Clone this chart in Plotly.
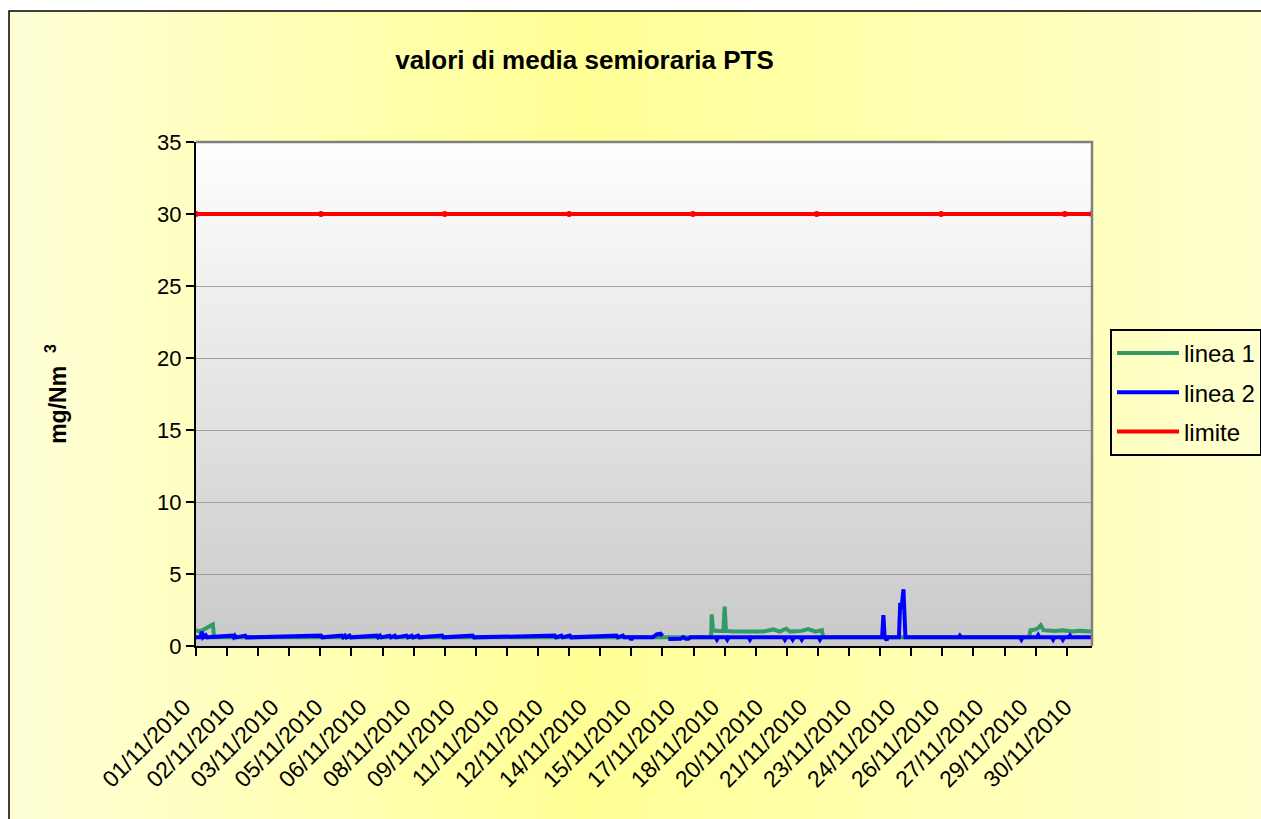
import base64, struct, zlib
import numpy as np
import plotly.graph_objects as go

# ---------------- data ----------------
# x = half-hour sample index along the category axis (1383 samples in the month)
N_SAMPLES = 1383

LABELS = ["01/11/2010", "02/11/2010", "03/11/2010", "05/11/2010", "06/11/2010",
          "08/11/2010", "09/11/2010", "11/11/2010", "12/11/2010", "14/11/2010",
          "15/11/2010", "17/11/2010", "18/11/2010", "20/11/2010", "21/11/2010",
          "23/11/2010", "24/11/2010", "26/11/2010", "27/11/2010", "29/11/2010",
          "30/11/2010"]
LABEL_POS = [0, 68, 136, 204, 272, 340, 408, 476, 544, 612, 680, 748, 816,
             884, 952, 1020, 1088, 1156, 1224, 1292, 1360]
TICK_MARKS = [0, 48, 96, 144, 192, 240, 288, 336, 384, 432, 480, 528, 576, 624,
              672, 720, 768, 816, 864, 912, 960, 1008, 1056, 1104, 1152, 1200,
              1248, 1296, 1344]

L1_IDX = [0, 5, 10, 17, 26, 28, 795, 796, 798, 806, 814, 816, 818, 829, 845,
          855, 875, 891, 901, 911, 917, 935, 945, 956, 966, 968, 1286, 1288,
          1296, 1300, 1304, 1308, 1326, 1338, 1352, 1364, 1383]
L1_VAL = [1.1, 1.0, 1.1, 1.3, 1.5, 0.6, 0.6, 2.2, 1.1, 1.05, 1.05, 2.73, 1.05,
          1.0, 1.0, 1.05, 1.0, 1.15, 1.0, 1.2, 1.0, 1.05, 1.18, 1.0, 1.1, 0.6,
          0.6, 1.1, 1.15, 1.25, 1.45, 1.1, 1.05, 1.1, 1.0, 1.05, 1.0]

L2_IDX = [0, 7, 9, 11, 15, 17, 56, 58, 60, 62, 76, 78, 193, 195, 225, 227, 230,
          232, 237, 239, 279, 281, 284, 286, 299, 301, 307, 309, 325, 327, 333,
          335, 343, 345, 380, 382, 427, 429, 554, 556, 564, 566, 577, 579, 649,
          651, 659, 661, 670, 672, 674, 705, 711, 717, 720, 724, 729, 748, 752,
          756, 760, 763, 802, 804, 806, 818, 820, 822, 853, 855, 857, 907, 909,
          911, 919, 921, 923, 933, 935, 937, 961, 963, 965, 1059, 1061, 1063,
          1066, 1068, 1085, 1087, 1089, 1092, 1095, 1177, 1179, 1181, 1272,
          1274, 1276, 1298, 1300, 1302, 1321, 1323, 1325, 1336, 1338, 1340,
          1347, 1349, 1351, 1383]
L2_VAL = [0.6, 0.6, 1.0, 0.6, 0.75, 0.6, 0.72, 0.6, 0.72, 0.6, 0.72, 0.6, 0.72,
          0.6, 0.72, 0.6, 0.72, 0.6, 0.72, 0.6, 0.72, 0.6, 0.72, 0.6, 0.72, 0.6,
          0.72, 0.6, 0.72, 0.6, 0.72, 0.6, 0.72, 0.6, 0.72, 0.6, 0.72, 0.6, 0.72,
          0.6, 0.72, 0.6, 0.72, 0.6, 0.72, 0.6, 0.72, 0.6, 0.6, 0.42, 0.6, 0.6,
          0.8, 0.85, 0.7, None, 0.48, 0.5, 0.62, 0.5, 0.5, 0.6, 0.6, 0.45, 0.6,
          0.6, 0.45, 0.6, 0.6, 0.45, 0.6, 0.6, 0.45, 0.6, 0.6, 0.45, 0.6, 0.6,
          0.45, 0.6, 0.6, 0.45, 0.6, 0.6, 2.15, 0.6, 0.4, 0.6, 0.6, 3.0, 2.6,
          3.94, 0.6, 0.6, 0.72, 0.6, 0.6, 0.45, 0.6, 0.6, 0.75, 0.6, 0.6, 0.45,
          0.6, 0.6, 0.45, 0.6, 0.6, 0.72, 0.6, 0.6]

LIM_IDX = [0, 193, 384, 576, 767, 958, 1150, 1341, 1383]
LIM_VAL = [30, 30, 30, 30, 30, 30, 30, 30, 30]

SERIES_NAMES = ["linea 1", "linea 2", "limite"]

# ---------------- styling helpers ----------------
W, H = 1261, 819
PL, PR, PT, PB = 196, 1092, 142, 646     # plot-area box in pixels
PW, PH = PR - PL, PB - PT


def px_to_paper_x(px):
    return (px - PL) / PW


def py_to_paper_y(py):
    return (PB - py) / PH


def png_uri(rgb):
    rgb = np.ascontiguousarray(rgb.astype(np.uint8))
    h, w, _ = rgb.shape
    raw = b"".join(b"\x00" + rgb[r].tobytes() for r in range(h))

    def chunk(t, d):
        c = struct.pack(">I", len(d)) + t + d
        return c + struct.pack(">I", zlib.crc32(t + d) & 0xFFFFFFFF)

    png = (b"\x89PNG\r\n\x1a\n"
           + chunk(b"IHDR", struct.pack(">IIBBBBB", w, h, 8, 2, 0, 0, 0))
           + chunk(b"IDAT", zlib.compress(raw, 9))
           + chunk(b"IEND", b""))
    return "data:image/png;base64," + base64.b64encode(png).decode()


# chart-area background: horizontal yellow gradient, strongest near the centre
BG_X0, BG_Y0, BG_X1, BG_Y1 = 9, 11, W + 2, H + 2
cols = np.arange(BG_X0, BG_X1)
blue_ch = np.interp(cols, [BG_X0, 584, W], [216, 150, 206])
bg = np.zeros((2, len(cols), 3))
bg[..., 0] = 255
bg[..., 1] = 255
bg[..., 2] = blue_ch[None, :]
bg_uri = png_uri(bg)

# plot-area background: white at top to grey at bottom
rows = np.arange(PH)
g = np.interp(rows, [0, PH - 1], [255, 202])
pa = np.zeros((PH, 2, 3))
pa[..., :] = g[:, None, None]
pa_uri = png_uri(pa)

FONT = "Arial, Liberation Sans, sans-serif"

fig = go.Figure()
fig.add_trace(go.Scatter(x=L1_IDX, y=L1_VAL, mode="lines", name=SERIES_NAMES[0],
                         line=dict(color="#339966", width=4), legendgroup="a"))
fig.add_trace(go.Scatter(x=L2_IDX, y=L2_VAL, mode="lines", name=SERIES_NAMES[1],
                         line=dict(color="#0000FF", width=4), legendgroup="b",
                         connectgaps=False))
fig.add_trace(go.Scatter(x=LIM_IDX, y=LIM_VAL, mode="lines", name=SERIES_NAMES[2],
                         line=dict(color="#FF0000", width=4), legendgroup="c"))
fig.add_trace(go.Scatter(x=LIM_IDX, y=LIM_VAL, mode="markers", showlegend=False,
                         marker=dict(color="#FF0000", size=6), legendgroup="c",
                         hoverinfo="skip"))
# carrier for the label axis
fig.add_trace(go.Scatter(x=[LABEL_POS[0]], y=[None], xaxis="x2", showlegend=False,
                         hoverinfo="skip", mode="lines"))

fig.update_layout(
    width=W, height=H,
    margin=dict(l=PL, r=W - PR, t=PT, b=H - PB, autoexpand=False),
    paper_bgcolor="white",
    plot_bgcolor="rgba(0,0,0,0)",
    font=dict(family=FONT, size=22, color="black"),
    title=dict(text="<b>valori di media semioraria PTS</b>",
               x=584.5 / W, xref="container", xanchor="center",
               y=1 - 59.5 / H, yref="container", yanchor="middle",
               font=dict(family=FONT, size=26, color="black")),
    xaxis=dict(range=[0, N_SAMPLES], showgrid=False, zeroline=False,
               showline=True, linecolor="black", linewidth=2,
               tickmode="array", tickvals=TICK_MARKS, ticks="outside",
               ticklen=8, tickwidth=1.5, tickcolor="black",
               showticklabels=False),
    xaxis2=dict(range=[0, N_SAMPLES], overlaying="x", anchor="y", side="bottom",
                showgrid=False, zeroline=False, showline=False,
                tickmode="array", tickvals=LABEL_POS, ticktext=LABELS,
                ticks="", tickangle=-45, ticklabelstandoff=42,
                ticklabelshift=-12,
                tickfont=dict(family=FONT, size=23, color="black")),
    yaxis=dict(range=[0, 35], tickmode="linear", tick0=0, dtick=5,
               showgrid=True, gridcolor="#A0A0A0", gridwidth=1, zeroline=False,
               showline=True, linecolor="black", linewidth=2,
               ticks="outside", ticklen=8, tickwidth=1.5, tickcolor="black",
               tickfont=dict(family=FONT, size=22, color="black"),
               title=dict(text="<b>mg/Nm\u00a0\u00a0<sup>3</sup></b>",
                          font=dict(family=FONT, size=23, color="black"),
                          standoff=84)),
    legend=dict(x=px_to_paper_x(1110), y=py_to_paper_y(329),
                xanchor="left", yanchor="top",
                bgcolor="rgba(0,0,0,0)", bordercolor="black", borderwidth=2,
                font=dict(family=FONT, size=24, color="black"),
                itemwidth=62, tracegroupgap=5),
    images=[
        dict(source=bg_uri, xref="paper", yref="paper",
             x=px_to_paper_x(BG_X0), y=py_to_paper_y(BG_Y0),
             sizex=(BG_X1 - BG_X0) / PW, sizey=(BG_Y1 - BG_Y0) / PH,
             xanchor="left", yanchor="top", sizing="stretch", layer="below"),
        dict(source=pa_uri, xref="paper", yref="paper",
             x=0, y=1, sizex=1, sizey=1,
             xanchor="left", yanchor="top", sizing="stretch", layer="below"),
    ],
    shapes=[
        # chart-area frame (left and top edges visible)
        dict(type="path", xref="paper", yref="paper",
             path=f"M {px_to_paper_x(BG_X0)},{py_to_paper_y(BG_Y1 + 20)} "
                  f"L {px_to_paper_x(BG_X0)},{py_to_paper_y(BG_Y0)} "
                  f"L {px_to_paper_x(BG_X1 + 20)},{py_to_paper_y(BG_Y0)}",
             line=dict(color="black", width=1.5)),
        # plot-area frame top and right in grey
        dict(type="path", xref="paper", yref="paper",
             path="M 0,1 L 1,1 L 1,0",
             line=dict(color="#808080", width=2.5)),
    ],
)

fig.write_html(
    "out.html",
    config={"displayModeBar": False},
    post_script=("document.body.style.margin='0';"
                 "document.documentElement.style.overflow='hidden';"
                 "document.body.style.overflow='hidden';"),
)
